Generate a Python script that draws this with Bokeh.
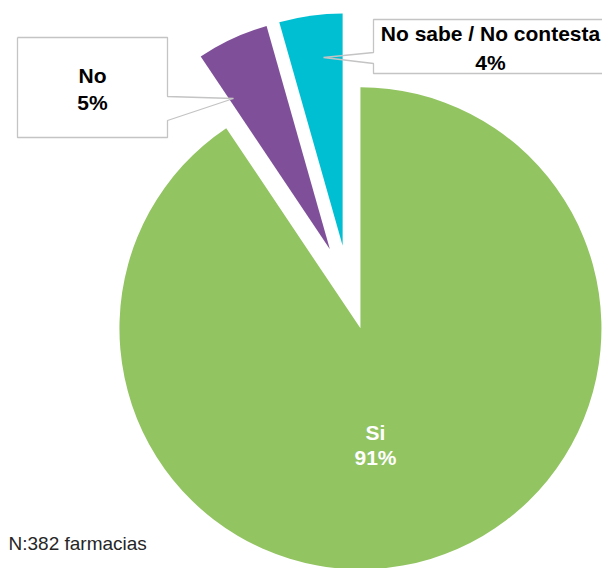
import math
import numpy as np
from bokeh.plotting import figure
from bokeh.models import Range1d
from bokeh.embed import file_html
from bokeh.resources import INLINE
from bokeh.core.properties import value

# ---- data ----
categories = ["Si", "No", "No sabe / No contesta"]
shares = [90.6, 5.0, 4.4]            # share of the pie, % (from slice angles)
pct_labels = ["91%", "5%", "4%"]
colors = ["#92C462", "#7F5099", "#00BFD3"]
note = "N:382 farmacias"

# ---- layout / style ----
FONT = value("Liberation Sans")
W, H = 602, 568
p = figure(width=W, height=H, x_range=Range1d(0, W), y_range=Range1d(0, H),
           output_backend="svg", toolbar_location=None, min_border=0)
p.axis.visible = False
p.grid.visible = False
p.outline_line_color = None
p.background_fill_color = "white"
p.border_fill_color = "white"


def sy(y):
    # screen y (from top of the picture) -> data y
    return H - y


center = (348.3, 289.6)     # pie centre, screen px
explode = [40, 45, 45]      # explosion distances
radius = [241, 232, 232]

theta = np.cumsum([0] + shares) / sum(shares) * 360.0
for i in range(len(shares)):
    t0, t1 = theta[i], theta[i + 1]
    tm = math.radians((t0 + t1) / 2)
    cx = center[0] + explode[i] * math.sin(tm)
    cy = sy(center[1]) + explode[i] * math.cos(tm)
    p.wedge(x=cx, y=cy, radius=radius[i],
            start_angle=math.radians(90 - t0), end_angle=math.radians(90 - t1),
            direction="clock", fill_color=colors[i], line_color=None)

# ---- callouts ----
BOX_LINE = "#C4C4C4"
# "No" callout
p.quad(left=17, right=167, top=sy(37), bottom=sy(137), fill_color="white", line_color=None)
p.line(x=[17, 167, 167, 233, 167, 167, 17, 17],
       y=[sy(v) for v in [37, 37, 96, 98, 120, 137, 137, 37]],
       line_color=BOX_LINE, line_width=1.3)
# "No sabe / No contesta" callout
p.quad(left=373, right=610, top=sy(19), bottom=sy(73), fill_color="white", line_color=None)
p.line(x=[610, 373, 373, 323, 373, 373, 610],
       y=[sy(v) for v in [19, 19, 52, 57, 63, 73, 73]],
       line_color=BOX_LINE, line_width=1.3)

label_pos = [(375, 432, 457, "white"), (92, 75, 102, "black"), (490, 33, 62, "black")]
for i, (lx, y1, y2, col) in enumerate(label_pos):
    p.text(x=[lx, lx], y=[sy(y1), sy(y2)], text=[categories[i], pct_labels[i]],
           text_font=FONT, text_font_style="bold", text_font_size="21px",
           text_align="center", text_baseline="middle", text_color=col)

p.text(x=[8], y=[sy(543)], text=[note], text_font=FONT, text_font_size="19px",
       text_align="left", text_baseline="middle", text_color="#262626")

open("out.html", "w").write(file_html(p, INLINE))
